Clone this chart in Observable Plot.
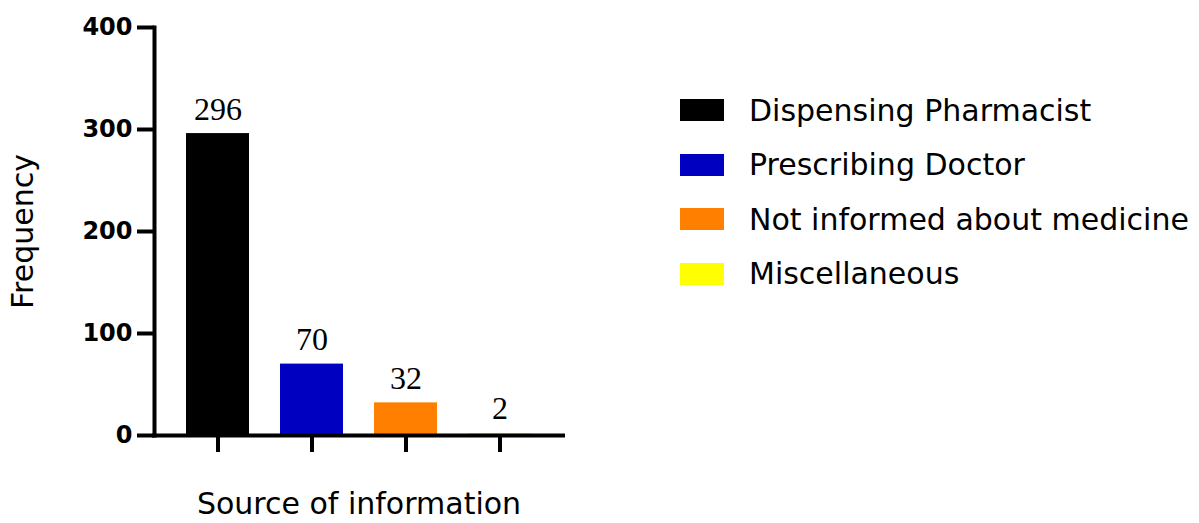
<!DOCTYPE html>
<html>
<head>
<meta charset="utf-8">
<script src="https://cdn.jsdelivr.net/npm/d3@7"></script>
<script src="https://cdn.jsdelivr.net/npm/@observablehq/plot@0.6"></script>
<style>
  body { margin: 0; background: #fff; }
  #wrap { position: relative; width: 1199px; height: 523px; }
  #legend { position: absolute; left: 680px; top: 99px; font-family: "DejaVu Sans", sans-serif; font-size: 30px; color: #000; }
  .item { display: flex; align-items: center; height: 22px; margin-bottom: 32.5px; white-space: nowrap; }
  .sw { width: 44px; height: 22px; margin-right: 25px; flex: none; }
</style>
</head>
<body>
<div id="wrap"><div id="legend"></div></div>
<script>
const categories = ["Dispensing Pharmacist", "Prescribing Doctor", "Not informed about medicine", "Miscellaneous"];
const frequencies = [296, 70, 32, 2];
const colors = ["#000000", "#0000C0", "#FF8000", "#FFFF00"];
const yTicks = [0, 100, 200, 300, 400];
const xLabel = "Source of information";
const yLabel = "Frequency";

const data = categories.map((c, i) => ({cat: c, freq: frequencies[i]}));

const chart = Plot.plot({
  width: 1199,
  height: 523,
  marginLeft: 154,
  marginRight: 636,
  marginTop: 27,
  marginBottom: 88,
  style: {fontFamily: "DejaVu Sans", background: "white", color: "black"},
  x: {domain: categories, paddingInner: 0.33, paddingOuter: 0.34, axis: null},
  y: {domain: [0, 400], axis: null},
  color: {domain: categories, range: colors},
  marks: [
    Plot.barY(data, {x: "cat", y: "freq", fill: "cat"}),
    Plot.axisX({tickSize: 17, strokeWidth: 4, tickFormat: () => "", label: null}),
    Plot.axisY({ticks: yTicks, tickSize: 17, strokeWidth: 4, tickPadding: 5, fontSize: 24, fontWeight: "bold", label: null}),
    Plot.ruleY([0], {strokeWidth: 4, strokeLinecap: "square"}),
    Plot.frame({anchor: "left", strokeWidth: 4, strokeLinecap: "square"}),
    Plot.text(data, {x: "cat", y: "freq", text: d => String(d.freq), fontFamily: "Liberation Serif", fontSize: 32, lineAnchor: "bottom", dy: -14, fill: "black"}),
    Plot.text([xLabel], {frameAnchor: "bottom", textAnchor: "middle", lineAnchor: "middle", dy: 69, fontSize: 30, fill: "black"}),
    Plot.text([yLabel], {frameAnchor: "left", textAnchor: "middle", lineAnchor: "middle", rotate: -90, dx: -131, fontSize: 30, fill: "black"})
  ]
});
document.getElementById("wrap").prepend(chart);

const legend = document.getElementById("legend");
categories.forEach((c, i) => {
  const item = document.createElement("div");
  item.className = "item";
  const sw = document.createElement("span");
  sw.className = "sw";
  sw.style.background = colors[i];
  const t = document.createElement("span");
  t.textContent = c;
  item.append(sw, t);
  legend.append(item);
});
</script>
</body>
</html>
